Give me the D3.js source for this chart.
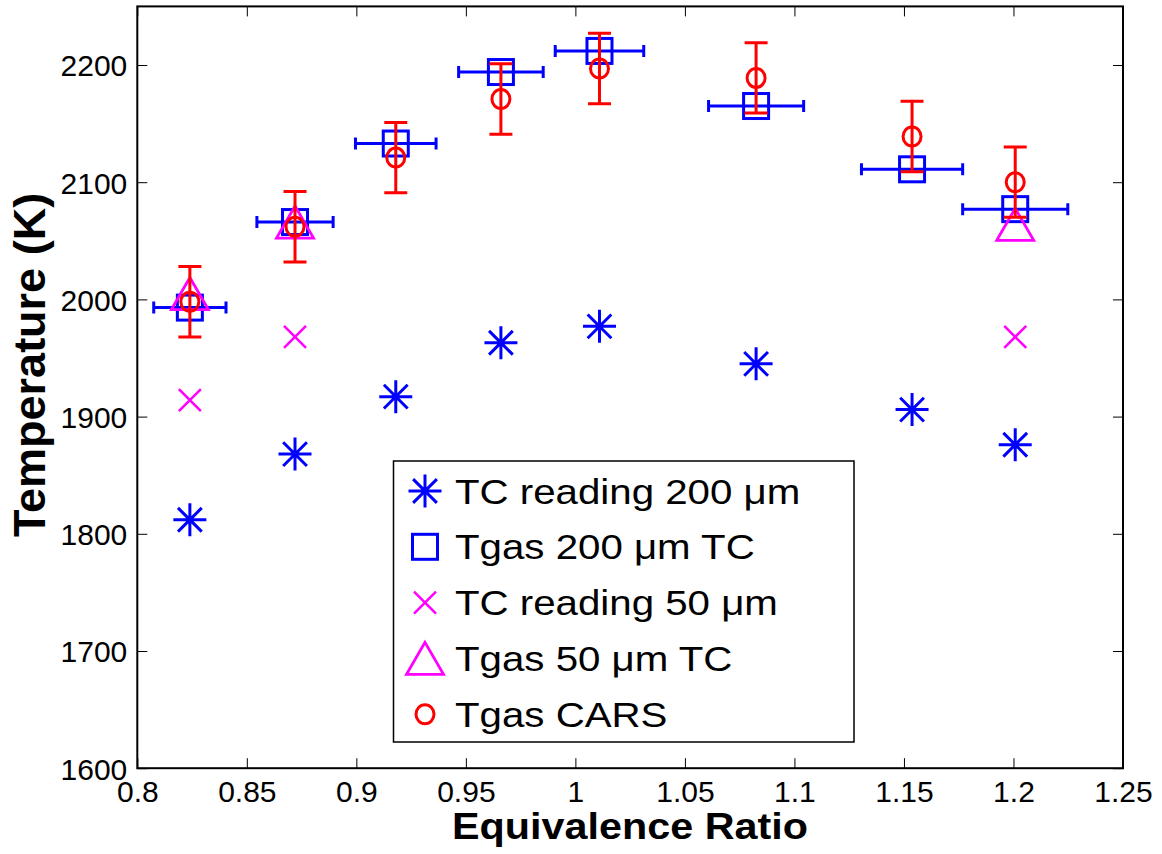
<!DOCTYPE html>
<html><head><meta charset="utf-8">
<script src="https://cdn.jsdelivr.net/npm/d3@7"></script>
<style>
html,body{margin:0;padding:0;background:#fff;}
svg{display:block;}
text{font-family:"Liberation Sans",Arial,Helvetica,sans-serif;}
</style></head>
<body>
<script>
// ---- data ----
const phi = [0.824, 0.872, 0.918, 0.966, 1.011, 1.0825, 1.1537, 1.2008];
const tcReading200 = [1812, 1868, 1917, 1963, 1977, 1945, 1906, 1876];
const tgas200 = [1993, 2066, 2133, 2194, 2212, 2165, 2111, 2077];
const phiErr = [0.0165, 0.0174, 0.0184, 0.0193, 0.0202, 0.0217, 0.0231, 0.0240];
const phi50 = [0.824, 0.872, 1.2008];
const tcReading50 = [1914, 1968, 1968];
const tgas50 = [2005, 2066, 2064];
const tgasCARS = [1998, 2062, 2121, 2171, 2197, 2189, 2139, 2100];
const carsErr = [30, 30, 30, 30, 30, 30, 30, 30];
const xTicks = [0.8, 0.85, 0.9, 0.95, 1, 1.05, 1.1, 1.15, 1.2, 1.25];
const xTickLabels = ["0.8", "0.85", "0.9", "0.95", "1", "1.05", "1.1", "1.15", "1.2", "1.25"];
const yTicks = [1600, 1700, 1800, 1900, 2000, 2100, 2200];
const legendLabels = ["TC reading 200 \u03bcm", "Tgas 200 \u03bcm TC", "TC reading 50 \u03bcm", "Tgas 50 \u03bcm TC", "Tgas CARS"];
const xTitle = "Equivalence Ratio";
const yTitle = "Temperature (K)";

// ---- layout ----
const W = 1162, H = 854;
const L = 137.3, R = 1123, T = 6.4, B = 768.2;
const BLUE = "#0000ff", MAG = "#ff00ff", RED = "#ff0000";

const svg = d3.select("body").append("svg").attr("width", W).attr("height", H);
const x = d3.scaleLinear().domain([0.8, 1.25]).range([L, R]);
const y = d3.scaleLinear().domain([1600, 2250]).range([B, T]);

// axes
const fmt = d => xTickLabels[xTicks.indexOf(d)];
const axB = d3.axisBottom(x).tickValues(xTicks).tickFormat(fmt).tickSizeInner(-10).tickSizeOuter(0).tickPadding(16);
const axT = d3.axisTop(x).tickValues(xTicks).tickFormat("").tickSizeInner(-10).tickSizeOuter(0);
const axL = d3.axisLeft(y).tickValues(yTicks).tickFormat(d3.format("d")).tickSizeInner(-10).tickSizeOuter(0).tickPadding(10);
const axR = d3.axisRight(y).tickValues(yTicks).tickFormat("").tickSizeInner(-10).tickSizeOuter(0);

function styleAxis(g) {
  g.select(".domain").remove();
  g.selectAll(".tick line").attr("stroke", "#000").attr("stroke-width", 1);
  g.selectAll(".tick text").attr("fill", "#000").style("font-size", "30px")
    .style("font-family", '"Liberation Sans",Arial,sans-serif');
}
svg.append("g").attr("transform", `translate(0,${B})`).call(axB).call(styleAxis)
  .selectAll(".tick text").attr("dy", "0.71em").attr("y", 13);
svg.append("g").attr("transform", `translate(0,${T})`).call(axT).call(styleAxis);
svg.append("g").attr("transform", `translate(${L},0)`).call(axL).call(styleAxis)
  .selectAll(".tick text").attr("dy", "0.36em");
svg.append("g").attr("transform", `translate(${R},0)`).call(axR).call(styleAxis);
svg.append("rect").attr("x", L).attr("y", T).attr("width", R - L).attr("height", B - T)
  .attr("fill", "none").attr("stroke", "#000").attr("stroke-width", 2);

// marker shapes
function asterisk(g, c) {
  const r = 16.5, d = r * 0.72;
  g.append("path").attr("d", `M${-r},0H${r}M0,${-r}V${r}M${-d},${-d}L${d},${d}M${-d},${d}L${d},${-d}`)
    .attr("stroke", c).attr("stroke-width", 3).attr("fill", "none");
}
function square(g, c) {
  g.append("rect").attr("x", -12.5).attr("y", -12.5).attr("width", 25).attr("height", 25)
    .attr("stroke", c).attr("stroke-width", 3).attr("fill", "none");
}
function cross(g, c) {
  const r = 11;
  g.append("path").attr("d", `M${-r},${-r}L${r},${r}M${-r},${r}L${r},${-r}`)
    .attr("stroke", c).attr("stroke-width", 2.5).attr("fill", "none");
}
function triangle(g, c) {
  g.append("path").attr("d", "M0,-16L18.5,16L-18.5,16Z")
    .attr("stroke", c).attr("stroke-width", 2.8).attr("fill", "none").attr("stroke-linejoin", "miter");
}
function circle(g, c) {
  g.append("ellipse").attr("rx", 9).attr("ry", 9.5).attr("stroke", c).attr("stroke-width", 3).attr("fill", "none");
}

const plot = svg.append("g");
function drawSeries(xs, ys, fn, c) {
  xs.forEach((xv, i) => {
    const g = plot.append("g").attr("transform", `translate(${x(xv)},${y(ys[i])})`);
    fn(g, c);
  });
}

// series 1: TC reading 200
drawSeries(phi, tcReading200, asterisk, BLUE);
// series 2: Tgas 200 with horizontal error bars
phi.forEach((p, i) => {
  const yy = y(tgas200[i]), x0 = x(p - phiErr[i]), x1 = x(p + phiErr[i]);
  plot.append("path").attr("d", `M${x0},${yy}H${x1}M${x0},${yy - 6}V${yy + 6}M${x1},${yy - 6}V${yy + 6}`)
    .attr("stroke", BLUE).attr("stroke-width", 3).attr("fill", "none");
});
drawSeries(phi, tgas200, square, BLUE);
// series 3, 4
drawSeries(phi50, tcReading50, cross, MAG);
drawSeries(phi50, tgas50, triangle, MAG);
// series 5: CARS with vertical error bars
phi.forEach((p, i) => {
  const xx = x(p), y0 = y(tgasCARS[i] + carsErr[i]), y1 = y(tgasCARS[i] - carsErr[i]);
  plot.append("path").attr("d", `M${xx},${y0}V${y1}M${xx - 11.5},${y0}H${xx + 11.5}M${xx - 11.5},${y1}H${xx + 11.5}`)
    .attr("stroke", RED).attr("stroke-width", 3).attr("fill", "none");
});
drawSeries(phi, tgasCARS, circle, RED);

// legend
const lg = svg.append("g");
lg.append("rect").attr("x", 393.5).attr("y", 461).attr("width", 460.5).attr("height", 281)
  .attr("fill", "#fff").attr("stroke", "#000").attr("stroke-width", 1.5);
const legFns = [[asterisk, BLUE], [square, BLUE], [cross, MAG], [triangle, MAG], [circle, RED]];
legendLabels.forEach((lab, i) => {
  const by = 503.5 + i * 55.8;
  const mg = lg.append("g").attr("transform", `translate(425,${by - 12.5})`);
  legFns[i][0](mg, legFns[i][1]);
  lg.append("text").attr("transform", `translate(455,${by}) scale(1.15,1)`)
    .style("font-size", "35px").attr("fill", "#000").text(lab);
});

// axis titles
svg.append("text").attr("transform", `translate(630,839) scale(1.117,1)`).attr("text-anchor", "middle")
  .style("font-size", "37px").style("font-weight", "bold").attr("fill", "#000").text(xTitle);
svg.append("text").attr("transform", `translate(45,365) rotate(-90)`).attr("text-anchor", "middle")
  .style("font-size", "45px").style("font-weight", "bold").attr("fill", "#000").text(yTitle);
</script>
</body></html>
